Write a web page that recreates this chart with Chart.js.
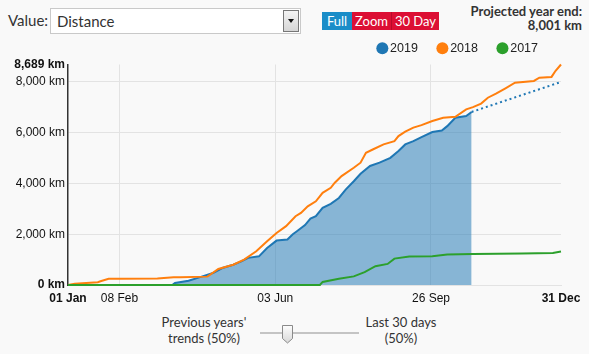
<!DOCTYPE html>
<html>
<head>
<meta charset="utf-8">
<title>Distance</title>
<script src="https://cdn.jsdelivr.net/npm/chart.js@4.4.1/dist/chart.umd.min.js"></script>
<style>
  body { margin: 0; width: 589px; height: 354px; overflow: hidden; position: relative;
         background: #f9f9f9; color: #333; font-family: Lato, "Open Sans", sans-serif; }
  .abs { position: absolute; }
  #valueLabel { left: 8px; top: 10px; font-size: 15px; line-height: 20px; }
  #select { left: 50px; top: 8px; width: 251px; height: 26px; box-sizing: border-box;
            border: 1px solid #c9c9c9; background: #fff; }
  #select span { position: absolute; left: 6px; top: 2px; font-size: 15px; line-height: 20px; }
  #select .drop { position: absolute; right: 1px; top: 1px; width: 16px; height: 22px; box-sizing: border-box;
                  border: 1px solid #777; background: linear-gradient(#f4f4f4, #d6d6d6); }
  #select .drop:after { content: ""; position: absolute; left: 4px; top: 8px; border-left: 3.5px solid transparent;
                        border-right: 3.5px solid transparent; border-top: 4px solid #111; }
  .btn { top: 12px; height: 18px; line-height: 18px; color: #fff; font-size: 13px; text-align: center; }
  #projected { right: 7px; top: 4px; text-align: right; font-weight: bold; font-size: 13px; line-height: 14px; }
  #wrap { left: 0; top: 19px; width: 589px; height: 287px; }
  .cap { width: 130px; text-align: center; font-size: 13px; line-height: 16px; top: 314px; }
  #track { left: 260px; top: 332px; width: 99px; height: 2px; background: #c4c4c4; }
  #thumb { left: 282px; top: 325px; }
</style>
</head>
<body>
<div class="abs" id="valueLabel">Value:</div>
<div class="abs" id="select"><span>Distance</span><div class="drop"></div></div>
<div class="abs btn" style="left:322px;width:30px;background:#1a8dc8;">Full</div>
<div class="abs btn" style="left:352px;width:40px;background:#dc0f34;border-right:1px solid #b80a2a;box-sizing:border-box;">Zoom</div>
<div class="abs btn" style="left:392px;width:47px;background:#dc0f34;">30 Day</div>
<div class="abs" id="projected">Projected year end:<br>8,001 km</div>

<div class="abs" id="wrap"><canvas id="chart"></canvas></div>

<div class="abs cap" style="left:139px;">Previous years'<br>trends (50%)</div>
<div class="abs" id="track"></div>
<svg class="abs" id="thumb" width="11" height="19" viewBox="0 0 11 19">
  <defs><linearGradient id="g" x1="0" y1="0" x2="0" y2="1"><stop offset="0" stop-color="#fdfdfd"/><stop offset="1" stop-color="#d8d8d8"/></linearGradient></defs>
  <path d="M0.5,0.5 H10.5 V13.5 L5.5,18 L0.5,13.5 Z" fill="url(#g)" stroke="#8a8a8a"/>
</svg>
<div class="abs cap" style="left:336px;">Last 30 days<br>(50%)</div>

<script>
// day of year (0 = 01 Jan) and cumulative km
const days2019 = [0, 77, 79, 89, 97, 107, 114, 122, 128, 133, 141, 147, 154, 162, 166, 169, 175, 179, 183, 188, 194, 200, 205, 211, 216, 223, 230, 238, 244, 249, 255, 261, 269, 276, 280, 286, 294, 298];
const km2019 = [0, 0, 80, 170, 300, 470, 670, 800, 930, 1070, 1130, 1460, 1750, 1790, 2000, 2120, 2360, 2620, 2710, 3040, 3200, 3430, 3760, 4090, 4380, 4690, 4820, 5010, 5280, 5540, 5670, 5830, 6030, 6090, 6260, 6590, 6660, 6820];

const days2018 = [0, 5, 22, 24, 30, 39, 66, 78, 83, 103, 111, 122, 130, 139, 147, 154, 161, 168, 172, 177, 183, 188, 194, 197, 202, 211, 216, 220, 225, 233, 241, 244, 249, 255, 261, 269, 277, 286, 294, 299, 305, 310, 316, 323, 330, 344, 348, 357, 360, 364];
const km2018 = [0, 45, 110, 150, 245, 250, 260, 310, 310, 330, 630, 800, 1000, 1330, 1720, 2050, 2320, 2710, 2840, 3100, 3300, 3630, 3830, 4030, 4290, 4620, 4820, 5210, 5340, 5540, 5670, 5870, 6040, 6200, 6300, 6460, 6590, 6630, 6920, 7010, 7150, 7380, 7540, 7750, 7970, 8040, 8170, 8200, 8440, 8689];

const days2017 = [0, 186, 188, 200, 211, 219, 227, 236, 241, 252, 269, 280, 299, 335, 358, 364];
const km2017 = [0, 0, 120, 250, 340, 510, 740, 830, 1040, 1120, 1130, 1200, 1220, 1240, 1260, 1320];

// projection from last 2019 value to year end
const projDays = [298, 364];
const projKm = [6820, 8001];

const xTickDays = [0, 38, 153, 268, 364];
const xTickLabels = ['01 Jan', '08 Feb', '03 Jun', '26 Sep', '31 Dec'];
const yTickValues = [0, 2000, 4000, 6000, 8000, 8689];
const yTickLabels = ['0 km', '2,000 km', '4,000 km', '6,000 km', '8,000 km', '8,689 km'];

const blue = '#1f77b4', orange = '#ff7f0e', green = '#2ca02c';
const grid = '#e3e3e3';

const pts = (xs, ys) => xs.map((x, i) => ({ x: x, y: ys[i] }));
const isEnd = (v, a) => v === a[0] || v === a[a.length - 1];

new Chart(document.getElementById('chart'), {
    type: 'line',
    data: {
        datasets: [
            { label: '2019', data: pts(days2019, km2019), borderColor: blue, pointBackgroundColor: blue,
              backgroundColor: 'rgba(31,119,180,0.52)', fill: 'origin', order: 3 },
            { label: '2018', data: pts(days2018, km2018), borderColor: orange, pointBackgroundColor: orange,
              backgroundColor: orange, fill: false, order: 2 },
            { label: '2017', data: pts(days2017, km2017), borderColor: green, pointBackgroundColor: green,
              backgroundColor: green, fill: false, order: 1 },
            { label: 'projection', data: pts(projDays, projKm), borderColor: blue, borderDash: [2, 3],
              fill: false, order: 0 }
        ]
    },
    options: {
        responsive: true,
        maintainAspectRatio: false,
        animation: false,
        events: [],
        datasets: { line: { clip: 4 } },
        elements: {
            point: { radius: 0, hoverRadius: 0, borderWidth: 0 },
            line: { borderWidth: 2, tension: 0 }
        },
        layout: { padding: { left: 0, right: 28, top: 0, bottom: 0 } },
        plugins: {
            tooltip: { enabled: false },
            legend: {
                position: 'top',
                align: 'end',
                labels: {
                    usePointStyle: true,
                    pointStyle: 'circle',
                    boxWidth: 3,
                    boxHeight: 8.5,
                    padding: 23,
                    color: '#222',
                    font: { family: '"Liberation Sans", Arial, sans-serif', size: 12.5 },
                    filter: item => item.datasetIndex < 3,
                    sort: (a, b) => a.datasetIndex - b.datasetIndex
                }
            }
        },
        scales: {
            x: {
                type: 'linear',
                min: 0,
                max: 364,
                afterBuildTicks: s => { s.ticks = xTickDays.map(v => ({ value: v })); },
                afterFit: s => { s.height = 21; },
                ticks: {
                    autoSkip: false,
                    maxRotation: 0,
                    padding: 6,
                    color: '#111',
                    callback: v => xTickLabels[xTickDays.indexOf(v)],
                    font: c => ({ family: '"Liberation Sans", Arial, sans-serif', size: 12,
                                  weight: c.tick && isEnd(c.tick.value, xTickDays) ? 'bold' : 'normal' })
                },
                grid: { drawTicks: false, color: c => c.tick && isEnd(c.tick.value, xTickDays) ? 'rgba(0,0,0,0)' : grid },
                border: { color: grid }
            },
            y: {
                min: 0,
                max: 8689,
                afterBuildTicks: s => { s.ticks = yTickValues.map(v => ({ value: v })); },
                afterFit: s => { s.width = 68; },
                ticks: {
                    padding: 3,
                    color: '#111',
                    callback: v => yTickLabels[yTickValues.indexOf(v)],
                    font: c => ({ family: '"Liberation Sans", Arial, sans-serif', size: 12,
                                  weight: c.tick && isEnd(c.tick.value, yTickValues) ? 'bold' : 'normal' })
                },
                grid: { drawTicks: false, color: c => c.tick && c.tick.value === 8689 ? 'rgba(0,0,0,0)' : grid },
                border: { color: '#333', width: 1.5 }
            }
        }
    }
});
</script>
</body>
</html>
